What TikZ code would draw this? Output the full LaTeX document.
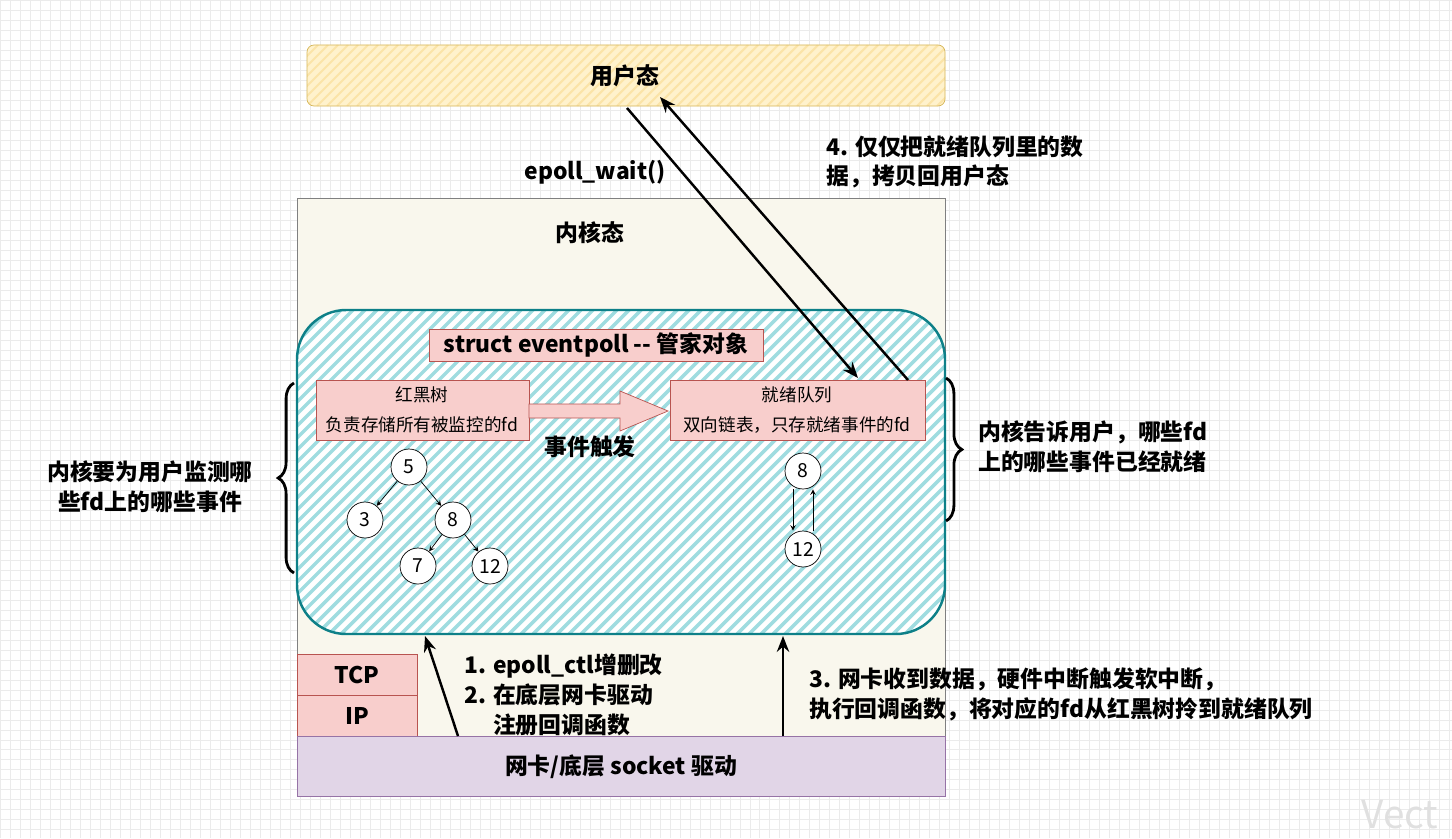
\documentclass[tikz,border=0pt]{standalone}
\usepackage{fontspec}
\setmainfont{Noto Sans CJK SC}
\usetikzlibrary{decorations.pathreplacing,arrows.meta}
\definecolor{yfill}{HTML}{FFF2CC}
\definecolor{ystripe}{HTML}{FBE4A8}
\definecolor{yline}{HTML}{D6B656}
\definecolor{tline}{HTML}{0E8088}
\definecolor{tfill}{HTML}{9FDCE0}
\definecolor{rfill}{HTML}{F8CECC}
\definecolor{rline}{HTML}{B85450}
\definecolor{pfill}{HTML}{E1D5E7}
\definecolor{pline}{HTML}{9673A6}
\definecolor{kfill}{HTML}{F9F7ED}
\tikzset{
  lbl/.style={font=\bfseries\fontsize{13}{17}\selectfont},
  redbox/.style={draw=rline,fill=rfill},
  num/.style={circle,draw,fill=white,minimum size=0.72cm,inner sep=0pt,font=\fontsize{11}{12}\selectfont},
  brace/.style={decorate,decoration={brace,amplitude=9pt},line width=1.6pt}
}
\begin{document}
\begin{tikzpicture}[x=0.02cm,y=-0.02cm]
\useasboundingbox (0,0) rectangle (1452,838);
\fill[white] (0,0) rectangle (1452,838);
\draw[black!8,step=0.2cm] (0,0) grid (1452,838);
% user space
\fill[yfill,rounded corners=4pt] (307,45) rectangle (945,106);
\begin{scope}
  \clip[rounded corners=4pt] (307,45) rectangle (945,106);
  \foreach \i in {-70,-60,...,640}
    \draw[ystripe,line width=1.2pt] (307+\i,106) -- (307+\i+61,45);
\end{scope}
\draw[yline,rounded corners=4pt] (307,45) rectangle (945,106);
\node[lbl] (user) at (625,76) {用户态};
% kernel
\draw[gray,fill=kfill] (297,198) rectangle (945,796);
\node[lbl] (kern) at (590,233) {内核态};
\fill[white,rounded corners=28pt] (297,310) rectangle (945,634);
\begin{scope}
  \clip[rounded corners=28pt] (297,310) rectangle (945,634);
  \foreach \i in {-340,-328,...,660}
    \draw[tfill,line width=2pt] (297+\i,634) -- (297+\i+330,304);
\end{scope}
\draw[tline,rounded corners=28pt,line width=1.4pt] (297,310) rectangle (945,634);
\draw[redbox] (429,329) rectangle (763,361);
\node[lbl] (ep) at (596,345) {struct eventpoll -{}- 管家对象};
\draw[redbox] (316,380) rectangle (529,440);
\node[font=\fontsize{10}{17}\selectfont,align=center] (rb) at (422,410) {红黑树\\负责存储所有被监控的fd};
\draw[redbox] (670,380) rectangle (925,440);
\node[font=\fontsize{10}{17}\selectfont,align=center] (rq) at (797,410) {就绪队列\\双向链表，只存就绪事件的fd};
\draw[rline,fill=rfill] (529,404) -- (620,404) -- (620,391) -- (668,411) -- (620,431) -- (620,418) -- (529,418) -- cycle;
\node[lbl] (trig) at (590,447) {事件触发};
% tree
\node[num] (t5) at (409,467) {5};
\node[num] (t3) at (365,520) {3};
\node[num] (t8) at (453,520) {8};
\node[num] (t7) at (418,566) {7};
\node[num] (t12) at (490,566) {12};
\foreach \a/\b in {t5/t3,t5/t8,t8/t7,t8/t12}
  \draw[->,>=stealth] (\a) -- (\b);
\node[num] (q8) at (803,471) {8};
\node[num] (q12) at (803,549) {12};
\draw[->,>=stealth] ([xshift=-0.2cm]q8.south) -- ([xshift=-0.2cm]q12.north);
\draw[->,>=stealth] ([xshift=0.2cm]q12.north) -- ([xshift=0.2cm]q8.south);
% braces
\draw[brace] (294,573) -- (294,383);
\draw[brace] (946,378) -- (946,521);
\node[lbl,align=center] (lt) at (150,487) {内核要为用户监测哪\\些fd上的哪些事件};
\node[lbl,align=left,anchor=west] (rt) at (972,447) {内核告诉用户，哪些fd\\上的哪些事件已经就绪};
% stack
\draw[redbox] (297,654) rectangle (417,695);
\node[lbl] (tcp) at (357,675) {TCP};
\draw[redbox] (297,695) rectangle (417,736);
\node[lbl] (ip) at (357,716) {IP};
\draw[pline,fill=pfill] (297,736) rectangle (945,796);
\node[lbl] (nic) at (621,767) {网卡/底层 socket 驱动};
% arrows
\coordinate (a1) at (458,736); \coordinate (a2) at (425,636);
\coordinate (b1) at (783,736); \coordinate (b2) at (783,636);
\coordinate (c1) at (627,108); \coordinate (c2) at (858,378);
\coordinate (d1) at (908,380); \coordinate (d2) at (660,97);
\foreach \s/\e in {a1/a2,b1/b2,c1/c2,d1/d2}
  \draw[-{Stealth[length=9pt,width=7pt]},line width=1.4pt] (\s) -- (\e);
\node[lbl] (ew) at (595,172) {epoll\_wait()};
\node[lbl,align=left] (cp) at (955,162) {4. 仅仅把就绪队列里的数\\据，拷贝回用户态};
\node[lbl,align=left,anchor=north west] (ctl) at (458,648) {1. epoll\_ctl增删改\\2. 在底层网卡驱动\\\phantom{2. }注册回调函数};
\node[lbl,align=left,anchor=north west] (cb) at (803,662) {3. 网卡收到数据，硬件中断触发软中断，\\执行回调函数，将对应的fd从红黑树拎到就绪队列};
\node[black!12,font=\fontsize{22}{24}\selectfont] (wm) at (1400,815) {Vect};
\end{tikzpicture}
\end{document}
